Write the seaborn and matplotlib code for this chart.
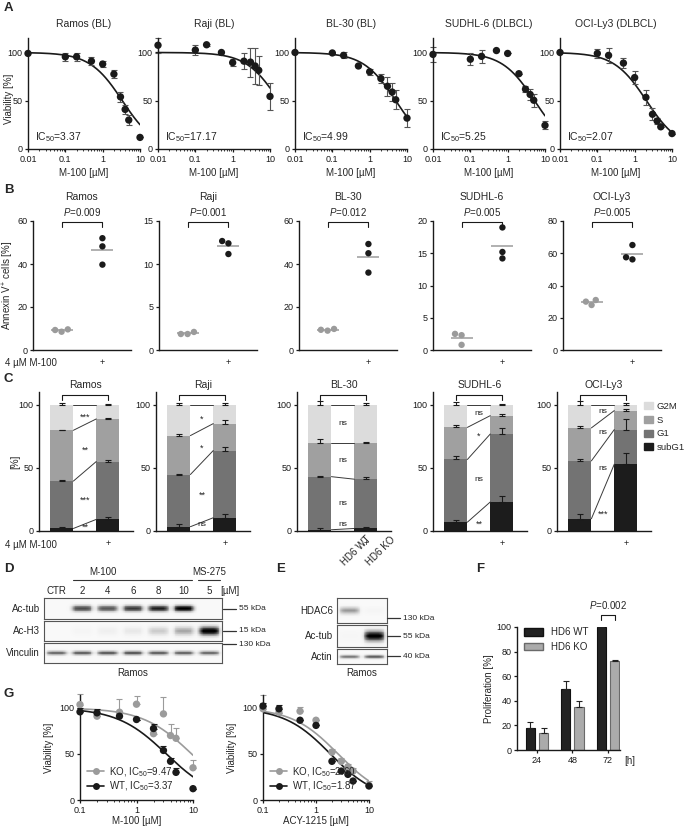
import numpy as np
import pandas as pd
import matplotlib
matplotlib.use('Agg')
import matplotlib.pyplot as plt
import matplotlib.patches as mpatches
from matplotlib.lines import Line2D
import seaborn as sns

sns.set_theme(style='ticks')
plt.rcParams['font.family'] = ['Liberation Sans', 'DejaVu Sans']
plt.rcParams.update({
    'mathtext.fontset': 'custom',
    'mathtext.rm': 'Liberation Sans',
    'mathtext.it': 'Liberation Sans:italic',
    'font.size': 7,
    'axes.titlesize': 7.5,
    'axes.labelsize': 7,
    'xtick.labelsize': 6.5,
    'ytick.labelsize': 6.5,
    'axes.linewidth': 1.0,
    'axes.edgecolor': '#1a1a1a',
    'xtick.major.size': 2.5,
    'ytick.major.size': 2.5,
    'xtick.minor.size': 1.5,
    'xtick.major.width': 0.9,
    'ytick.major.width': 0.9,
    'xtick.minor.width': 0.6,
    'xtick.major.pad': 2,
    'ytick.major.pad': 1.5,
    'xtick.color': '#1a1a1a',
    'ytick.color': '#1a1a1a',
})

# ---------------- data ----------------
# A: viability vs M-100 dose
doses_a = [0.01, 0.1, 0.2, 0.5, 1, 2, 3, 4, 5, 10]
lines_a = ['Ramos (BL)', 'Raji (BL)', 'BL-30 (BL)', 'SUDHL-6 (DLBCL)', 'OCI-Ly3 (DLBCL)']
ic50_a = [3.37, 17.17, 4.99, 5.25, 2.07]
via_ramos = [99, 95.5, 95.5, 91, 88, 77.6, 54, 41, 30, 12]
err_ramos = [0, 4, 4, 4, 3, 4, 5, 5, 5, 0]
via_raji = [107.5, 102.5, 108, 100, 89.5, 91, 90, 86, 81.5, 54.5]
err_raji = [8, 5, 1, 0, 4, 8, 15, 19, 15, 14]
via_bl30 = [100, 99.5, 97, 86, 80, 73, 65, 59, 51, 32]
err_bl30 = [0, 0, 3, 0, 3, 5, 10, 9, 10, 9]
via_sudhl6 = [98, 93, 96, 102, 99, 78, 62, 56.5, 50.5, 24.5]
err_sudhl6 = [8, 6, 7, 0, 0, 0, 3, 6, 7, 4]
via_ocily3 = [100, 99, 97, 89, 74, 53.5, 36, 29, 23, 16]
err_ocily3 = [0, 5, 8, 5, 7, 8, 6, 3, 0, 0]

# B: annexin V+ cells
lines_b = ['Ramos', 'Raji', 'BL-30', 'SUDHL-6', 'OCI-Ly3']
annexin_ctrl = [[8.5, 9.6, 9.3], [1.86, 2.1, 1.86], [9.0, 9.8, 9.4], [2.5, 0.8, 2.3], [27.9, 31.0, 30.0]]
annexin_m100 = [[52.0, 48.2, 39.7], [12.67, 11.16, 12.4], [49.3, 45.0, 36.0], [19.0, 15.2, 14.2], [65.1, 56.2, 57.5]]
pvals_b = ['0.009', '0.001', '0.012', '0.005', '0.005']
ymax_b = [60, 15, 60, 20, 80]
ystep_b = [20, 5, 20, 5, 20]

# C: cell cycle phases (subG1, G1, S, G2M), ctrl vs M-100
phases = ['subG1', 'G1', 'S', 'G2M']
cc_ctrl = [[2.0, 37.5, 40.2, 20.3], [3.4, 41.3, 30.8, 24.5], [1.0, 42.0, 27.0, 30.0],
           [7.0, 49.6, 25.4, 18.0], [9.7, 45.8, 26.1, 18.4]]
cc_m100 = [[9.2, 45.8, 33.7, 11.3], [10.5, 53.2, 21.3, 15.0], [2.0, 39.0, 29.0, 30.0],
           [23.0, 53.8, 14.5, 8.7], [52.9, 27.4, 15.0, 4.7]]
cc_ctrl_err = [[1, 1, 0.5, 1.5], [2, 0.5, 1, 1], [1, 0.5, 3, 2.5], [2, 2.5, 1.5, 2], [4, 1.5, 1.5, 3]]
cc_m100_err = [[2, 1, 1, 0.5], [3, 3, 2.5, 1.5], [1, 2, 0.5, 1], [4.5, 4.5, 1, 0.5], [9, 8.5, 1.5, 1.5]]
cc_signif = [['**', '***', '**', '***'], ['ns', '**', '*', '*'], ['ns', 'ns', 'ns', 'ns'],
             ['**', 'ns', '*', 'ns'], ['***', 'ns', 'ns', 'ns']]

# D: western blot, Ramos
blot_d_lanes = ['CTR', '2', '4', '6', '8', '10', '5']
band_actub = [0.0, 0.72, 0.68, 0.78, 0.86, 0.97, 0.0]
band_ach3 = [0.0, 0.04, 0.08, 0.12, 0.26, 0.4, 1.0]
band_vinc = [0.6, 0.64, 0.66, 0.68, 0.64, 0.62, 0.6]

# E: western blot, HDAC6 WT / KO
blot_e_lanes = ['HD6 WT', 'HD6 KO']
band_hdac6 = [0.45, 0.04]
band_e_actub = [0.03, 1.0]
band_actin = [0.55, 0.65]

# F: proliferation
prolif_time = ['24', '48', '72']
prolif_wt = [17.5, 50, 100]
prolif_wt_err = [5.5, 6.5, 0]
prolif_ko = [13.5, 35, 72]
prolif_ko_err = [4.5, 5, 1.5]

# G: HDAC6 KO vs WT
doses_g = [0.1, 0.2, 0.5, 1, 2, 3, 4, 5, 10]
m100_ko = [103.6, 91, 95.3, 104, 72, 93.5, 70, 67, 35]
m100_ko_err = [11, 0, 14, 9, 8, 18, 12.7, 11, 8]
m100_wt = [95.7, 94.6, 91, 87.4, 77.6, 53.8, 42, 30, 12.3]
m100_wt_err = [4, 4, 0, 0, 5, 4.7, 4, 5, 0]
acy_ko = [99, 95, 96.4, 86.6, 52, 42, 36, 31.4, 16]
acy_ko_err = [15, 0, 4.6, 0, 3, 4, 2.6, 3.6, 4.6]
acy_wt = [102, 99, 86.6, 81, 42, 31.4, 27.8, 20.6, 15.2]
acy_wt_err = [3, 4.6, 0, 0, 0, 0, 0, 0, 0]
ic50_g_m100 = {'KO': 9.47, 'WT': 3.37}
ic50_g_acy = {'KO': 2.60, 'WT': 1.87}

BLACK = '#1a1a1a'
GRAY = '#9b9b9b'
PHASE_COLORS = ['#1c1c1c', '#737373', '#a0a0a0', '#dcdcdc']

W, H = 685, 827
fig = plt.figure(figsize=(W / 100, H / 100), dpi=100)


def ax_px(l, t, r, b):
    return fig.add_axes([l / W, 1 - b / H, (r - l) / W, (b - t) / H])


def txt(x, y, s, **kw):
    fig.text(x / W, 1 - y / H, s, **kw)


def hill(x, ic50):
    return 100 / (1 + np.asarray(x) / ic50)


def despine(ax):
    ax.spines['top'].set_visible(False)
    ax.spines['right'].set_visible(False)


for lab, (x, y) in {'A': (4, 8), 'B': (4, 190), 'C': (4, 379), 'D': (4, 569),
                    'E': (276, 569), 'F': (476, 569), 'G': (4, 694)}.items():
    txt(x, y, lab, fontsize=9.5, fontweight='bold', va='center', ha='left')

# ---------------- A ----------------
via_a = [via_ramos, via_raji, via_bl30, via_sudhl6, via_ocily3]
err_a = [err_ramos, err_raji, err_bl30, err_sudhl6, err_ocily3]
xfit = np.logspace(-2, 1, 200)
for i, left in enumerate([28, 158, 295, 433, 560]):
    ax = ax_px(left, 38, left + 112, 149)
    ax.set_xscale('log')
    sns.lineplot(x=xfit, y=hill(xfit, ic50_a[i]), color=BLACK, lw=1.2, ax=ax)
    ax.errorbar(doses_a, via_a[i], yerr=err_a[i], fmt='none', ecolor='#555',
                elinewidth=0.8, capsize=2.2, capthick=0.8, clip_on=False)
    sns.scatterplot(x=doses_a, y=via_a[i], color=BLACK, s=28, edgecolor='none',
                    ax=ax, zorder=3, clip_on=False)
    ax.set_xlim(0.01, 10)
    ax.set_ylim(0, 115)
    ax.set_xticks([0.01, 0.1, 1, 10], labels=['0.01', '0.1', '1', '10'])
    ax.set_yticks([0, 50, 100])
    ax.set_title(lines_a[i], pad=8)
    ax.set_xlabel('M-100 [µM]', labelpad=3)
    if i == 0:
        ax.set_ylabel('Viability [%]')
        ax.yaxis.set_label_coords(-0.125, 0.45)
    else:
        ax.set_ylabel('')
    ax.text(0.06, 0.11, f'IC$_{{50}}$={ic50_a[i]:.2f}', transform=ax.transAxes,
            fontsize=7.5, va='center')
    despine(ax)

# ---------------- B ----------------
for i, left in enumerate([33, 159, 299, 433, 563]):
    ax = ax_px(left, 221, left + 98, 350)
    df = pd.DataFrame({'cond': ['ctrl'] * 3 + ['m100'] * 3,
                       'val': annexin_ctrl[i] + annexin_m100[i]})
    sns.swarmplot(data=df, x='cond', y='val', hue='cond',
                  palette={'ctrl': GRAY, 'm100': BLACK}, size=4.6,
                  order=['ctrl', 'm100'], legend=False, ax=ax, clip_on=False)
    for pos, vals in enumerate([annexin_ctrl[i], annexin_m100[i]]):
        ax.hlines(np.mean(vals), pos - 0.27, pos + 0.27, color=GRAY, lw=1.1, zorder=1)
    ym = ymax_b[i]
    ax.plot([0, 0, 1, 1], [ym * 0.955, ym * 0.995, ym * 0.995, ym * 0.955],
            color=BLACK, lw=0.8, clip_on=False)
    ax.text(0.5, ym * 1.02, f'$P$={pvals_b[i]}', ha='center', va='bottom', fontsize=7)
    ax.set_xlim(-0.7, 1.7)
    ax.set_ylim(0, ym)
    ax.set_yticks(np.arange(0, ym + 1, ystep_b[i]))
    ax.set_xticks([0, 1], labels=['', '+'])
    ax.tick_params(axis='x', length=0, pad=6)
    ax.set_xlabel('')
    if i == 0:
        ax.set_ylabel('Annexin V$^{+}$ cells [%]')
        ax.yaxis.set_label_coords(-0.17, 0.5)
    else:
        ax.set_ylabel('')
    ax.set_title(lines_b[i], pad=15)
    despine(ax)
txt(5, 363, '4 µM M-100', fontsize=7, va='center')

# ---------------- C ----------------
for i, left in enumerate([39, 156, 297, 433, 557]):
    ax = ax_px(left, 392, left + 94, 531)
    cum_c = np.cumsum(cc_ctrl[i])
    cum_t = np.cumsum(cc_m100[i])
    for k in range(3, -1, -1):
        sns.barplot(x=['ctrl', 'm100'], y=[cum_c[k], cum_t[k]], color=PHASE_COLORS[k],
                    width=0.5, linewidth=0, saturation=1, errorbar=None, ax=ax)
    for k in range(4):
        ax.errorbar([0, 1], [cum_c[k], cum_t[k]],
                    yerr=[[0, 0], [cc_ctrl_err[i][k], cc_m100_err[i][k]]],
                    fmt='none', ecolor=BLACK, elinewidth=0.8, capsize=2, capthick=0.8)
        ax.plot([0.25, 0.75], [cum_c[k], cum_t[k]], color='#3a3a3a', lw=0.7)
        lower = 0 if k == 0 else (cum_c[k - 1] + cum_t[k - 1]) / 2
        upper = (cum_c[k] + cum_t[k]) / 2
        ypos = max((lower + upper) / 2, lower + 5)
        s = cc_signif[i][k]
        ax.text(0.5, ypos - (2 if '*' in s else 0), s, ha='center', va='center',
                fontsize=6.5 if '*' in s else 6, color='#222')
    ax.plot([0, 0, 1, 1], [104, 108, 108, 104], color=BLACK, lw=0.8, clip_on=False)
    ax.set_xlim(-0.5, 1.55)
    ax.set_ylim(0, 110)
    ax.set_yticks([0, 50, 100])
    ax.set_xticks([0, 1], labels=['', '+'])
    ax.tick_params(axis='x', length=0, pad=6)
    if i == 0:
        ax.set_ylabel('[%]')
        ax.yaxis.set_label_coords(-0.2, 0.5)
    else:
        ax.set_ylabel('')
    ax.set_title(lines_b[i], pad=3)
    despine(ax)
txt(5, 545, '4 µM M-100', fontsize=7, va='center')
fig.legend(handles=[mpatches.Patch(color=PHASE_COLORS[k], label=phases[k]) for k in range(3, -1, -1)],
           loc='upper left', bbox_to_anchor=(644 / W, 1 - 402 / H), frameon=False,
           fontsize=6.8, handlelength=0.9, handleheight=0.8, handletextpad=0.4,
           labelspacing=0.5, borderaxespad=0, borderpad=0)


# ---------------- blots ----------------
def blot(ax, intens, sigma, bg=0.05):
    n = len(intens)
    per = 30
    xs = (np.arange(n * per) + 0.5) / per - 0.5
    ys = (np.arange(30) + 0.5) / 30
    img = np.full((30, n * per), bg)
    vy = np.exp(-0.5 * ((ys - 0.5) / sigma) ** 2)
    for j, v in enumerate(intens):
        hx = 1 / (1 + np.exp((np.abs(xs - j) - 0.38) / 0.05))
        img += v * np.outer(vy, hx)
    sns.heatmap(np.clip(img, 0, 1), ax=ax, cmap='Greys', vmin=0, vmax=1, cbar=False,
                xticklabels=False, yticklabels=False, rasterized=True)
    for s in ax.spines.values():
        s.set_visible(True)
        s.set_color('#555')
        s.set_linewidth(0.8)


# D
d_rows = [('Ac-tub', band_actub, 0.11, 598, 619), ('Ac-H3', band_ach3, 0.16, 621, 641),
          ('Vinculin', band_vinc, 0.08, 643, 663)]
for name, vals, sg, t, b in d_rows:
    ax = ax_px(44, t, 222, b)
    blot(ax, vals, sg)
    txt(40, (t + b) / 2, name, ha='right', va='center', fontsize=7)
lane_w = (222 - 44) / len(blot_d_lanes)
for j, lab in enumerate(blot_d_lanes):
    txt(44 + (j + 0.5) * lane_w, 591, lab, ha='center', va='center', fontsize=7)
txt(220, 591, '[µM]', ha='left', va='center', fontsize=7)
txt(103, 572, 'M-100', ha='center', va='center', fontsize=7)
txt(209, 572, 'MS-275', ha='center', va='center', fontsize=7)
fig.add_artist(Line2D([73 / W, 192 / W], [1 - 580 / H] * 2, color='#333', lw=0.8))
fig.add_artist(Line2D([198 / W, 220 / W], [1 - 580 / H] * 2, color='#333', lw=0.8))
for lab, y in [('55 kDa', 609), ('15 kDa', 631), ('130 kDa', 644)]:
    fig.add_artist(Line2D([223 / W, 236 / W], [1 - y / H] * 2, color='#333', lw=0.9))
    txt(239, y, lab, ha='left', va='center', fontsize=6)
txt(133, 673, 'Ramos', ha='center', va='center', fontsize=7)

# E
e_rows = [('HDAC6', band_hdac6, 0.1, 598, 623), ('Ac-tub', band_e_actub, 0.17, 625, 647),
          ('Actin', band_actin, 0.09, 649, 664)]
for name, vals, sg, t, b in e_rows:
    ax = ax_px(337, t, 387, b)
    blot(ax, vals, sg)
    txt(333, (t + b) / 2, name, ha='right', va='center', fontsize=7)
for j, lab in enumerate(blot_e_lanes):
    txt(337 + (j + 0.5) * 25 - 3, 567, lab, rotation=45, ha='left', va='bottom',
        rotation_mode='anchor', fontsize=7)
for lab, y in [('130 kDa', 618), ('55 kDa', 636), ('40 kDa', 656)]:
    fig.add_artist(Line2D([387 / W, 400 / W], [1 - y / H] * 2, color='#333', lw=0.9))
    txt(403, y, lab, ha='left', va='center', fontsize=6)
txt(362, 673, 'Ramos', ha='center', va='center', fontsize=7)

# ---------------- F ----------------
ax = ax_px(517, 627, 620, 750)
dff = pd.DataFrame({'time': prolif_time * 2,
                    'geno': ['HD6 WT'] * 3 + ['HD6 KO'] * 3,
                    'val': prolif_wt + prolif_ko})
sns.barplot(data=dff, x='time', y='val', hue='geno', order=prolif_time,
            hue_order=['HD6 WT', 'HD6 KO'], palette={'HD6 WT': '#222', 'HD6 KO': '#ababab'},
            width=0.75, gap=0.3, errorbar=None, saturation=1, legend=False,
            linewidth=0.8, ax=ax)
bars = ax.patches
for p, e in zip(bars, prolif_wt_err + prolif_ko_err):
    p.set_edgecolor('#111' if p.get_facecolor()[0] < 0.3 else '#6a6a6a')
    cx = p.get_x() + p.get_width() / 2
    ax.errorbar([cx], [p.get_height()], yerr=[[0], [e]], fmt='none', ecolor='#222',
                elinewidth=0.8, capsize=2, capthick=0.8)
wt72 = bars[2].get_x() + bars[2].get_width() / 2
ko72 = bars[5].get_x() + bars[5].get_width() / 2
ax.plot([wt72, wt72, ko72, ko72], [106, 110, 110, 106], color=BLACK, lw=0.8, clip_on=False)
ax.text((wt72 + ko72) / 2, 113, '$P$=0.002', ha='center', va='bottom', fontsize=7)
ax.set_xlim(-0.56, 2.34)
ax.set_ylim(0, 100)
ax.set_yticks([0, 20, 40, 60, 80, 100])
ax.set_xlabel('')
ax.set_ylabel('Proliferation [%]', labelpad=2)
ax.text(2.62, -0.045, '[h]', transform=ax.get_xaxis_transform(), fontsize=7,
        ha='center', va='top')
ax.legend(handles=[mpatches.Patch(facecolor='#222', edgecolor='#111', label='HD6 WT'),
                   mpatches.Patch(facecolor='#ababab', edgecolor='#6a6a6a', label='HD6 KO')],
          loc='upper left', bbox_to_anchor=(0.03, 1.03), frameon=False, fontsize=7,
          handlelength=2.0, handleheight=0.8, labelspacing=0.5, borderaxespad=0)
despine(ax)

# ---------------- G ----------------
xg = np.logspace(-1, 1, 200)
g_sets = [('M-100 [µM]', m100_ko, m100_ko_err, m100_wt, m100_wt_err, ic50_g_m100, 80, 193),
          ('ACY-1215 [µM]', acy_ko, acy_ko_err, acy_wt, acy_wt_err, ic50_g_acy, 263, 369)]
for xl, ko, koe, wt, wte, ic, l, r in g_sets:
    ax = ax_px(l, 695, r, 800)
    ax.set_xscale('log')
    for vals, errs, col, key in [(ko, koe, GRAY, 'KO'), (wt, wte, BLACK, 'WT')]:
        sns.lineplot(x=xg, y=hill(xg, ic[key]), color=col, lw=1.2, ax=ax)
        ax.errorbar(doses_g, vals, yerr=[[0] * len(errs), errs], fmt='none', ecolor=col,
                    elinewidth=0.8, capsize=2.2, capthick=0.8, clip_on=False)
        sns.scatterplot(x=doses_g, y=vals, color=col, s=28, edgecolor='none', ax=ax,
                        zorder=3, clip_on=False)
    ax.set_xlim(0.1, 10)
    ax.set_ylim(0, 114)
    ax.set_xticks([0.1, 1, 10], labels=['0.1', '1', '10'])
    ax.set_yticks([0, 50, 100])
    ax.set_xlabel(xl, labelpad=0.5)
    ax.set_ylabel('Viability [%]')
    ax.legend(handles=[Line2D([0], [0], color=GRAY, marker='o', ms=5, mec='none', lw=1.2,
                              label=f"KO, IC$_{{50}}$={ic['KO']:.2f}"),
                       Line2D([0], [0], color=BLACK, marker='o', ms=5, mec='none', lw=1.2,
                              label=f"WT, IC$_{{50}}$={ic['WT']:.2f}")],
              loc='lower left', frameon=False, fontsize=7, handlelength=1.8,
              labelspacing=0.1, borderaxespad=0.3, handletextpad=0.5)
    despine(ax)

fig.savefig('out.png', dpi=100)
